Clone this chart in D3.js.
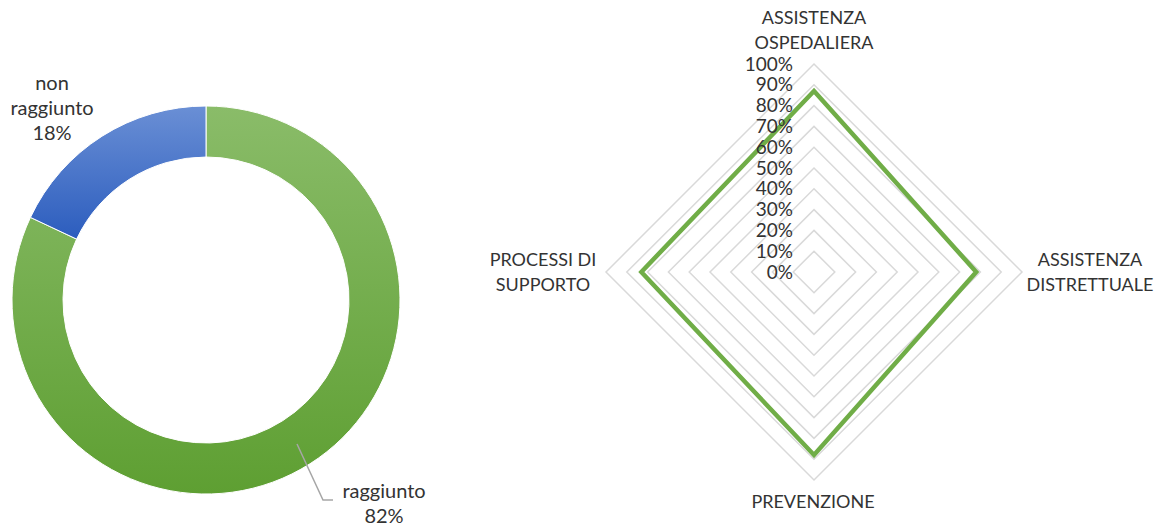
<!DOCTYPE html>
<html>
<head>
<meta charset="utf-8">
<script src="https://cdn.jsdelivr.net/npm/d3@7"></script>
<style>
  body { margin: 0; background: #fff; }
  svg text { font-family: Lato, "Noto Sans", sans-serif; fill: #333; }
</style>
</head>
<body>
<svg id="chart" width="1162" height="530"></svg>
<script>
// donut data
var donutLabels = [["raggiunto"], ["non", "raggiunto"]];
var donutValues = [82, 18];

// radar data
var radarAxes = [["ASSISTENZA", "OSPEDALIERA"], ["ASSISTENZA", "DISTRETTUALE"], ["PREVENZIONE"], ["PROCESSI DI", "SUPPORTO"]];
var radarValues = [0.87, 0.78, 0.88, 0.83];
var radarTicks = [0, 0.1, 0.2, 0.3, 0.4, 0.5, 0.6, 0.7, 0.8, 0.9, 1];

var svg = d3.select("#chart");
var defs = svg.append("defs");

var cx = 206, cy = 300, rOut = 194, rIn = 143;

/* gradients a la Excel, one per slice (bounding box) */
function grad(id, top, bottom) {
  var g = defs.append("linearGradient").attr("id", id)
    .attr("x1", 0).attr("y1", 0).attr("x2", 0).attr("y2", 1);
  g.append("stop").attr("offset", "0%").attr("stop-color", top);
  g.append("stop").attr("offset", "100%").attr("stop-color", bottom);
}
grad("gGreen", "#8abc69", "#5e9f32");
grad("gBlue", "#6a8fd5", "#2c5dbe");
var fills = ["url(#gGreen)", "url(#gBlue)"];

/* ---- donut ---- */
var pie = d3.pie().sort(null)(donutValues);
var arc = d3.arc().innerRadius(rIn).outerRadius(rOut);

var donut = svg.append("g").attr("transform", `translate(${cx},${cy})`);
donut.selectAll("path").data(pie).enter().append("path")
  .attr("d", arc)
  .attr("fill", (d, i) => fills[i])
  .attr("stroke", "#fff")
  .attr("stroke-width", 1);

// leader line for "raggiunto"
var lead = d3.line()([[297, 444], [323, 500], [333, 500]]);
svg.append("path").attr("d", lead)
  .attr("fill", "none").attr("stroke", "#a6a6a6").attr("stroke-width", 1.5);

var labelPos = [[384, 491], [52, 83]];
donutLabels.forEach(function(lines, i) {
  var t = svg.append("text")
    .attr("text-anchor", "middle")
    .style("font-size", "20px");
  lines.concat([donutValues[i] + "%"]).forEach(function(s, j) {
    t.append("tspan").attr("x", labelPos[i][0])
      .attr("y", labelPos[i][1] + j * 25)
      .attr("dy", "0.35em").text(s);
  });
});

/* ---- radar ---- */
var rx = 814, ry = 272, R = 208;
var r = d3.scaleLinear().domain([0, 1]).range([0, R]);
var ang = radarAxes.map((d, i) => i * Math.PI / 2);
var pt = (v, i) => [rx + r(v) * Math.sin(ang[i]), ry - r(v) * Math.cos(ang[i])];

var radar = svg.append("g");
radarTicks.slice(1).forEach(function(t) {
  radar.append("path")
    .attr("d", d3.line()(radarAxes.map((a, i) => pt(t, i))) + "Z")
    .attr("fill", "none").attr("stroke", "#d9d9d9").attr("stroke-width", 1.5);
});

radar.append("path")
  .attr("d", d3.line()(radarValues.map((v, i) => pt(v, i))) + "Z")
  .attr("fill", "none").attr("stroke", "#70ad47")
  .attr("stroke-width", 4.5).attr("stroke-linejoin", "miter");

radar.selectAll(".tick").data(radarTicks).enter().append("text")
  .attr("class", "tick")
  .attr("x", rx - 21)
  .attr("y", d => ry - r(d))
  .attr("dy", "0.35em")
  .attr("text-anchor", "end")
  .style("font-size", "19px")
  .text(d => Math.round(d * 100) + "%");

var axisPos = [[814, 18], [1090, 260], [813, 502], [543, 260]];
radarAxes.forEach(function(lines, i) {
  var t = svg.append("text").attr("text-anchor", "middle").style("font-size", "18px");
  lines.forEach(function(s, j) {
    t.append("tspan").attr("x", axisPos[i][0])
      .attr("y", axisPos[i][1] + j * 25)
      .attr("dy", "0.35em").text(s);
  });
});
</script>
</body>
</html>
